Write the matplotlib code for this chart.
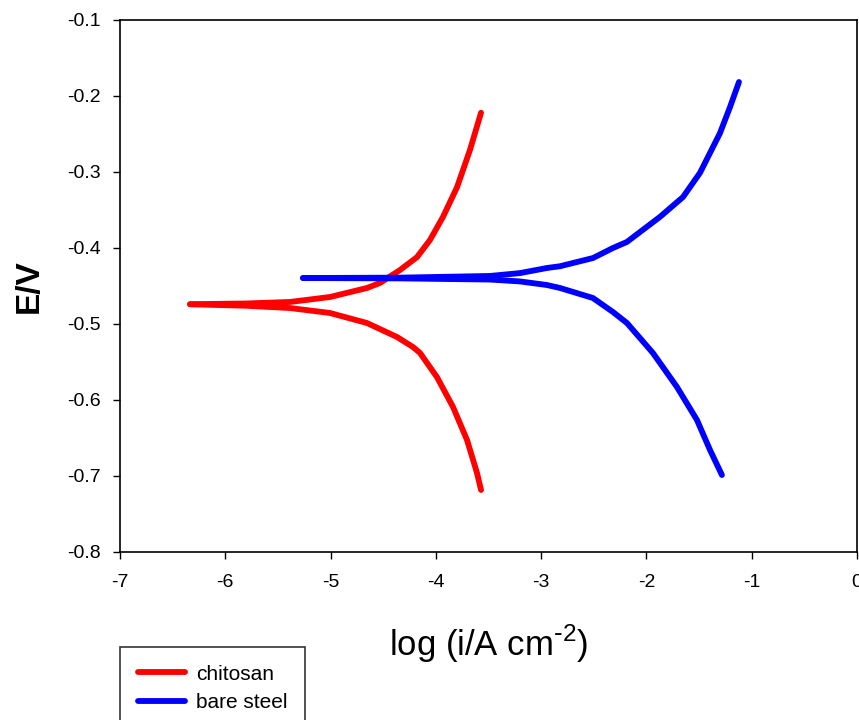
import matplotlib
matplotlib.use("Agg")
import matplotlib.pyplot as plt

plt.rcParams['font.family'] = ['Liberation Sans', 'DejaVu Sans']

# chitosan (red)
chi_anodic_x = [-6.335, -5.80, -5.385, -5.006, -4.654, -4.531, -4.341, -4.179, -4.056, -3.932, -3.799, -3.676, -3.571]
chi_anodic_y = [-0.474, -0.473, -0.471, -0.4645, -0.4526, -0.446, -0.429, -0.412, -0.3895, -0.359, -0.320, -0.271, -0.222]
chi_cathodic_x = [-6.335, -5.80, -5.385, -5.006, -4.654, -4.369, -4.217, -4.151, -3.989, -3.837, -3.704, -3.609, -3.571]
chi_cathodic_y = [-0.474, -0.476, -0.479, -0.4855, -0.4987, -0.5171, -0.5303, -0.538, -0.570, -0.6092, -0.6526, -0.6961, -0.7184]

# bare steel (blue)
bare_anodic_x = [-5.262, -4.341, -3.486, -3.20, -2.945, -2.821, -2.508, -2.318, -2.185, -1.871, -1.653, -1.491, -1.302, -1.206, -1.121]
bare_anodic_y = [-0.4395, -0.439, -0.4368, -0.433, -0.4263, -0.424, -0.4132, -0.400, -0.392, -0.359, -0.333, -0.301, -0.249, -0.2145, -0.1816]
bare_cathodic_x = [-5.262, -4.341, -3.486, -3.20, -2.945, -2.821, -2.508, -2.318, -2.185, -1.938, -1.710, -1.520, -1.396, -1.283]
bare_cathodic_y = [-0.4395, -0.440, -0.4415, -0.444, -0.4487, -0.4526, -0.4658, -0.4842, -0.4987, -0.5382, -0.5829, -0.6263, -0.6658, -0.6987]

xticks = [-7, -6, -5, -4, -3, -2, -1, 0]
yticks = [-0.8, -0.7, -0.6, -0.5, -0.4, -0.3, -0.2, -0.1]

fig = plt.figure(figsize=(8.59, 7.2), dpi=100)
ax = fig.add_axes([120/859, 1-552/720, (857-120)/859, (552-20)/720])

lw = 4.2
kw = dict(lw=lw, solid_capstyle='round', solid_joinstyle='round')
ax.plot(chi_anodic_x, chi_anodic_y, color='#ff0000', label='chitosan', **kw)
ax.plot(chi_cathodic_x, chi_cathodic_y, color='#ff0000', **kw)
ax.plot(bare_anodic_x, bare_anodic_y, color='#0000ff', label='bare steel', **kw)
ax.plot(bare_cathodic_x, bare_cathodic_y, color='#0000ff', **kw)

ax.set_xlim(-7, 0)
ax.set_ylim(-0.8, -0.1)
ax.set_xticks(xticks)
ax.set_xticklabels([str(v) for v in xticks])
ax.set_yticks(yticks)
ax.set_yticklabels([f"{v:.1f}" for v in yticks])
ax.tick_params(direction='out', length=5, width=1, labelsize=14)
ax.tick_params(axis='y', pad=9)
ax.tick_params(axis='x', pad=11)
for s in ax.spines.values():
    s.set_linewidth(1.2)

ax.set_ylabel('E/V', fontsize=24, fontweight='bold', labelpad=16)
ax.set_xlabel(r'log (i/A cm$^{\mathregular{\text{-}2}}$)', fontsize=25, labelpad=23)

leg = fig.legend(loc='upper left', bbox_to_anchor=(120/859, 1-647/720), fontsize=15,
                 frameon=True, fancybox=False, edgecolor='black', handlelength=2.26,
                 borderpad=0.85, labelspacing=0.45, handletextpad=0.53, borderaxespad=0)
leg.get_frame().set_linewidth(1.2)

fig.savefig('out.png', dpi=100)
